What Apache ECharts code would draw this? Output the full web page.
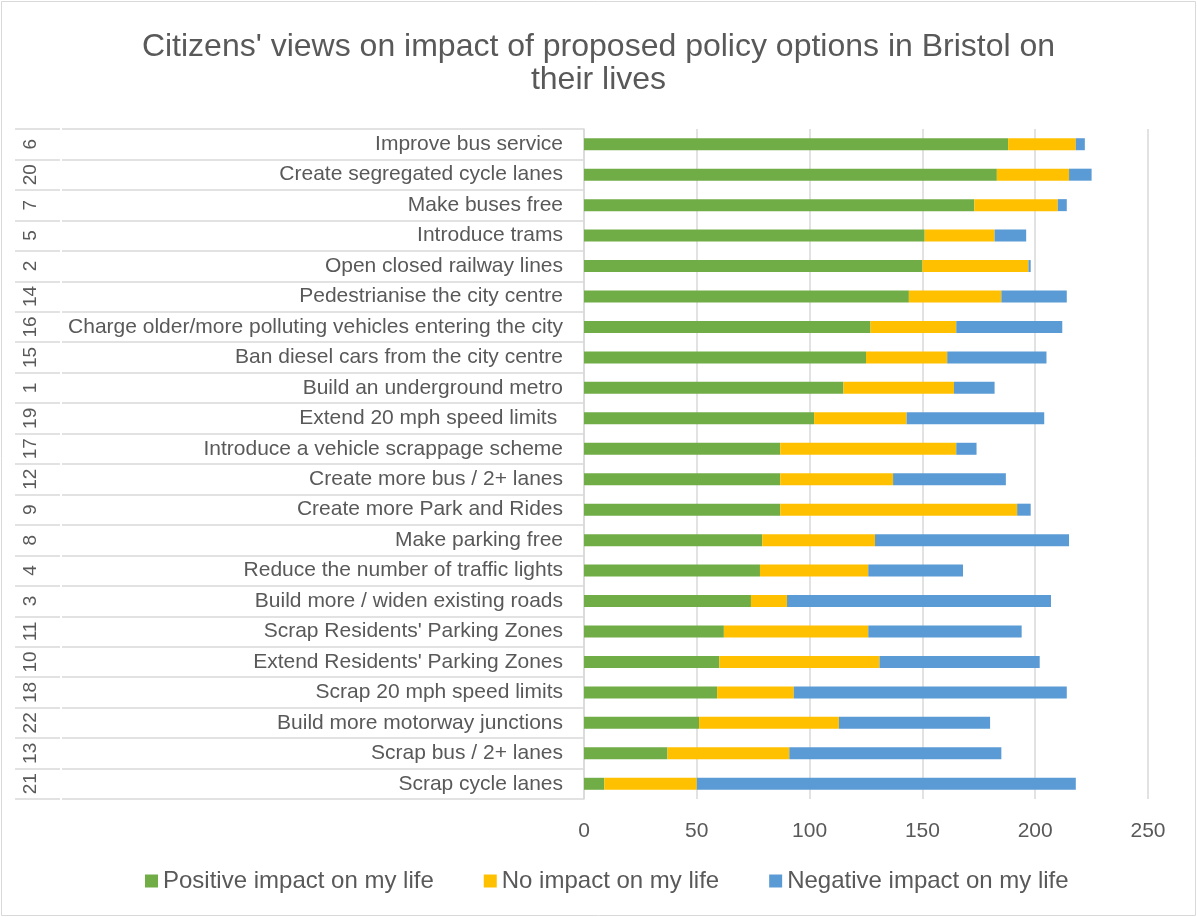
<!DOCTYPE html>
<html>
<head>
<meta charset="utf-8">
<script src="https://cdn.jsdelivr.net/npm/echarts@6/dist/echarts.min.js"></script>
<style>
  html, body { margin: 0; padding: 0; background: #fff; }
  #chart { width: 1197px; height: 917px; }
</style>
</head>
<body>
<div id="chart"></div>
<script>
// policy options, top to bottom
const policyIds = ['6', '20', '7', '5', '2', '14', '16', '15', '1', '19', '17', '12', '9', '8', '4', '3', '11', '10', '18', '22', '13', '21'];
const policyNames = [
  'Improve bus service',
  'Create segregated cycle lanes',
  'Make buses free',
  'Introduce trams',
  'Open closed railway lines',
  'Pedestrianise the city centre',
  'Charge older/more polluting vehicles entering the city',
  'Ban diesel cars from the city centre',
  'Build an underground metro',
  'Extend 20 mph speed limits ',
  'Introduce a vehicle scrappage scheme',
  'Create more bus / 2+ lanes',
  'Create more Park and Rides',
  'Make parking free',
  'Reduce the number of traffic lights',
  'Build more / widen existing roads',
  "Scrap Residents' Parking Zones",
  "Extend Residents' Parking Zones",
  'Scrap 20 mph speed limits',
  'Build more motorway junctions',
  'Scrap bus / 2+ lanes',
  'Scrap cycle lanes'
];
const positive = [188, 183, 173, 151, 150, 144, 127, 125, 115, 102, 87, 87, 87, 79, 78, 74, 62, 60, 59, 51, 37, 9];
const noImpact = [30, 32, 37, 31, 47, 41, 38, 36, 49, 41, 78, 50, 105, 50, 48, 16, 64, 71, 34, 62, 54, 41];
const negative = [4, 10, 4, 14, 1, 29, 47, 44, 18, 61, 9, 50, 6, 86, 42, 117, 68, 71, 121, 67, 94, 168];
const xTicks = [0, 50, 100, 150, 200, 250];

const FONT = '"Liberation Sans", Arial, sans-serif';
const TEXT = '#595959';
const LINE = '#D9D9D9';

const chart = echarts.init(document.getElementById('chart'));

function bar(name, data, color) {
  return {
    name: name,
    type: 'bar',
    stack: 'total',
    barWidth: 12,
    data: data,
    itemStyle: { color: color },
    emphasis: { disabled: true }
  };
}

chart.setOption({
  backgroundColor: '#fff',
  animation: false,
  textStyle: { fontFamily: FONT },
  title: {
    text: "Citizens' views on impact of proposed policy options in Bristol on\ntheir lives",
    left: 'center',
    top: 26,
    textStyle: { fontFamily: FONT, fontSize: 32, fontWeight: 'normal', color: TEXT, lineHeight: 33 }
  },
  legend: {
    bottom: 19,
    left: 140,
    icon: 'rect',
    itemWidth: 13,
    itemHeight: 13,
    itemGap: 50,
    textStyle: { fontFamily: FONT, fontSize: 24, color: TEXT },
    data: ['Positive impact on my life', 'No impact on my life', 'Negative impact on my life']
  },
  grid: { left: 584, right: 49, top: 129, bottom: 118 },
  xAxis: {
    type: 'value',
    min: xTicks[0],
    max: xTicks[xTicks.length - 1],
    interval: 50,
    axisLine: { show: false },
    axisTick: { show: false },
    splitLine: { show: true, lineStyle: { color: LINE, width: 1.5 } },
    axisLabel: { fontFamily: FONT, fontSize: 21, color: TEXT, margin: 22 }
  },
  yAxis: [
    {
      type: 'category',
      inverse: true,
      data: policyNames,
      axisLine: { show: true, lineStyle: { color: LINE, width: 1.5 } },
      axisTick: { show: true, length: 522, lineStyle: { color: LINE, width: 1.5 } },
      axisLabel: { interval: 0, fontFamily: FONT, fontSize: 21, color: TEXT, margin: 21 }
    },
    {
      type: 'category',
      inverse: true,
      position: 'left',
      offset: 524,
      data: policyIds,
      axisLine: { show: false },
      axisTick: { show: true, length: 45, lineStyle: { color: LINE, width: 1.5 } },
      axisLabel: { interval: 0, rotate: 90, fontFamily: FONT, fontSize: 19, color: TEXT, margin: 20 }
    }
  ],
  graphic: [{
    type: 'rect',
    shape: { x: 1.5, y: 1.5, width: 1194, height: 914 },
    style: { fill: 'none', stroke: LINE, lineWidth: 1 },
    silent: true
  }],
  series: [
    bar('Positive impact on my life', positive, '#70AD47'),
    bar('No impact on my life', noImpact, '#FFC000'),
    bar('Negative impact on my life', negative, '#5B9BD5')
  ]
});
</script>
</body>
</html>
